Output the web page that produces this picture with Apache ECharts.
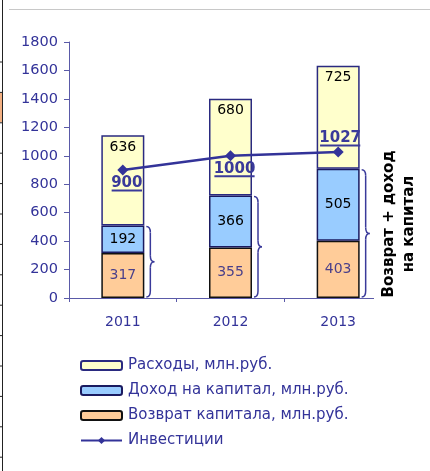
<!DOCTYPE html>
<html><head><meta charset="utf-8">
<script src="https://cdn.jsdelivr.net/npm/echarts@6/dist/echarts.min.js"></script>
<style>html,body{margin:0;padding:0;background:#fff}#c{width:430px;height:471px}</style>
</head><body><div id="c"></div>
<script>
const categories = ['2011', '2012', '2013'];
const returnCapital = [317, 355, 403];
const incomeCapital = [192, 366, 505];
const expenses = [636, 680, 725];
const investments = [900, 1000, 1027];
const yTicks = [0, 200, 400, 600, 800, 1000, 1200, 1400, 1600, 1800];
const seriesNames = ['Расходы, млн.руб.', 'Доход на капитал, млн.руб.', 'Возврат капитала, млн.руб.', 'Инвестиции'];
const sideText = 'Возврат + доход\nна капитал';

const FONT = 'DejaVu Sans';
const NAVY = '#333399';
const AXIS = '#5a5aa8';
const LBL = '#3a3a9a';
const BAR_W = 43;
const bracketTops = categories.map((c, i) => [i, returnCapital[i] + incomeCapital[i]]);
const invLabelData = investments.map((v, i) => [i, v, i === investments.length - 1 ? 1 : 0]);

const chart = echarts.init(document.getElementById('c'), null, {renderer: 'canvas'});

const leftTicks = [];
for (let k = 0; k < 14; k++) {
  leftTicks.push({type: 'line', shape: {x1: 0, y1: 62 + k * 30.4, x2: 3, y2: 62 + k * 30.4}, style: {stroke: '#222', lineWidth: 1}});
}

chart.setOption({
  animation: false,
  textStyle: {fontFamily: FONT},
  grid: {left: 69, right: 38, top: 42, bottom: 173},
  xAxis: {
    type: 'category', data: categories,
    axisLine: {lineStyle: {color: AXIS, width: 1}},
    axisTick: {show: true, length: 4, lineStyle: {color: AXIS}},
    axisLabel: {color: NAVY, fontSize: 14, fontFamily: FONT, margin: 17}
  },
  yAxis: {
    type: 'value', min: yTicks[0], max: yTicks[yTicks.length - 1], interval: 200,
    splitLine: {show: false},
    axisLine: {show: true, lineStyle: {color: AXIS, width: 1}},
    axisTick: {show: true, length: 5, lineStyle: {color: AXIS}},
    axisLabel: {color: NAVY, fontSize: 14.5, fontFamily: FONT, margin: 11, formatter: v => String(v)}
  },
  legend: {
    orient: 'vertical', left: 75, top: 353, itemWidth: 41, itemHeight: 9, itemGap: 10,
    data: [
      {name: seriesNames[0], icon: 'roundRect'},
      {name: seriesNames[1], icon: 'roundRect'},
      {name: seriesNames[2], icon: 'roundRect'},
      {name: seriesNames[3]}
    ],
    textStyle: {color: NAVY, fontSize: 15, fontFamily: FONT, padding: [0, 0, 0, 1]}
  },
  series: [
    {
      name: seriesNames[2], type: 'bar', stack: 's', barWidth: BAR_W, data: returnCapital,
      itemStyle: {color: '#FFCC99', borderColor: '#111', borderWidth: 1.5},
      label: {show: true, position: 'inside', color: '#4a3f8a', fontSize: 14, fontFamily: FONT}
    },
    {
      name: seriesNames[1], type: 'bar', stack: 's', barWidth: BAR_W, data: incomeCapital,
      itemStyle: {color: '#99CCFF', borderColor: '#1a1a60', borderWidth: 1.5},
      label: {show: true, position: 'inside', color: '#000', fontSize: 14, fontFamily: FONT}
    },
    {
      name: seriesNames[0], type: 'bar', stack: 's', barWidth: BAR_W, data: expenses,
      itemStyle: {color: '#FFFFCC', borderColor: '#2a2a80', borderWidth: 1.5},
      label: {show: true, position: 'insideTop', distance: 5, color: '#000', fontSize: 14, fontFamily: FONT}
    },
    {
      name: seriesNames[3], type: 'line', data: investments,
      symbol: 'diamond', symbolSize: 11,
      lineStyle: {color: NAVY, width: 2.5},
      itemStyle: {color: NAVY},
      z: 5
    },
    {
      type: 'custom', name: 'invLabels', silent: true, data: invLabelData, z: 7,
      renderItem: function (params, api) {
        const p = api.coord([api.value(0), api.value(1)]);
        const above = api.value(2) === 1;
        const txt = String(api.value(1));
        const w = txt.length * 9.8 + 1;
        const cx = p[0] + (above ? 2 : 4);
        const ty = above ? p[1] - 14 : p[1] + 13;
        const uy = above ? p[1] - 6.5 : p[1] + 20.5;
        return {
          type: 'group', children: [
            {type: 'text', style: {text: txt, x: cx, y: ty, textAlign: 'center', textVerticalAlign: 'middle',
              font: 'bold 15px "DejaVu Sans"', fill: LBL}},
            {type: 'line', shape: {x1: cx - w / 2, y1: uy, x2: cx + w / 2, y2: uy}, style: {stroke: LBL, lineWidth: 2}}
          ]
        };
      }
    },
    {
      type: 'custom', name: 'brackets', silent: true,
      data: bracketTops,
      renderItem: function (params, api) {
        const i = api.value(0), top = api.value(1);
        const pTop = api.coord([i, top]);
        const pBot = api.coord([i, 0]);
        const x0 = pTop[0] + BAR_W / 2 + 2;
        const w = 8, r = 6;
        const xm = x0 + w / 2;
        const yT = pTop[1] + 1, yB = pBot[1] - 1, ym = (yT + yB) / 2;
        const st = {stroke: LBL, lineWidth: 1.5, fill: null};
        return {
          type: 'group', children: [
            {type: 'bezierCurve', shape: {x1: x0, y1: yT, x2: xm, y2: yT + r, cpx1: xm, cpy1: yT}, style: st},
            {type: 'line', shape: {x1: xm, y1: yT + r, x2: xm, y2: ym - r}, style: st},
            {type: 'bezierCurve', shape: {x1: xm, y1: ym - r, x2: x0 + w, y2: ym, cpx1: xm, cpy1: ym}, style: st},
            {type: 'bezierCurve', shape: {x1: x0 + w, y1: ym, x2: xm, y2: ym + r, cpx1: xm, cpy1: ym}, style: st},
            {type: 'line', shape: {x1: xm, y1: ym + r, x2: xm, y2: yB - r}, style: st},
            {type: 'bezierCurve', shape: {x1: xm, y1: yB - r, x2: x0, y2: yB, cpx1: xm, cpy1: yB}, style: st}
          ]
        };
      },
      z: 6
    }
  ],
  graphic: [
    {type: 'line', shape: {x1: 9, y1: 9.5, x2: 430, y2: 9.5}, style: {stroke: '#c8c8c8', lineWidth: 1}},
    {type: 'line', shape: {x1: 2.5, y1: 0, x2: 2.5, y2: 471}, style: {stroke: '#222', lineWidth: 1}},
    {type: 'rect', shape: {x: 0, y: 93, width: 2, height: 29}, style: {fill: '#F4B183'}},
    ...leftTicks,
    {type: 'rect', z: 10, shape: {x: 374, y: 295, width: 8, height: 6}, style: {fill: '#fff'}},
    {type: 'rect', z: 10, shape: {x: 382, y: 295, width: 12, height: 10}, style: {fill: '#fff'}},
    {
      type: 'text', z: 11, x: 399, y: 224, rotation: Math.PI / 2,
      style: {text: sideText, font: 'bold 15px "DejaVu Sans"', fill: '#000', textAlign: 'center', textVerticalAlign: 'middle', lineHeight: 20}
    }
  ]
});
</script></body></html>
